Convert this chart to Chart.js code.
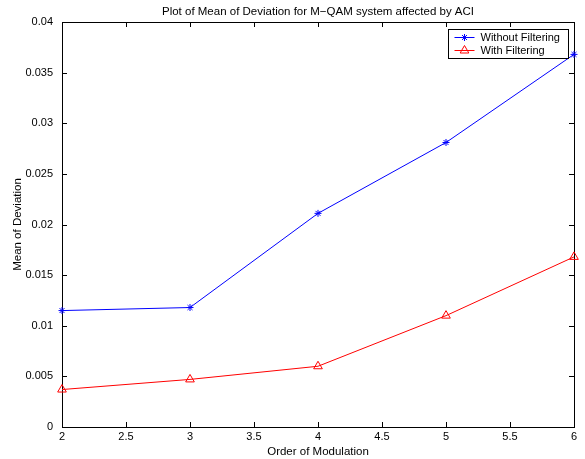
<!DOCTYPE html>
<html>
<head>
<meta charset="utf-8">
<title>Mean of Deviation for M-QAM</title>
<script src="https://cdn.jsdelivr.net/npm/chart.js@4/dist/chart.umd.min.js"></script>
<style>
  html, body { margin: 0; padding: 0; background: #fff; }
  canvas { display: block; }
</style>
</head>
<body>
<canvas id="devChart" width="585" height="459"></canvas>
<script>
// modulation order on the x axis
var orders = [2, 3, 4, 5, 6];
// mean of deviation per order
var withoutFiltering = [0.0115, 0.0118, 0.0211, 0.0281, 0.0368];
var withFiltering = [0.0037, 0.0047, 0.0060, 0.0110, 0.0168];
var seriesNames = ['Without Filtering', 'With Filtering'];

function toPoints(values) {
    return orders.map(function (o, i) { return { x: o, y: values[i] }; });
}

function fmt(v) {
    return String(+Number(v).toFixed(4));
}

Chart.defaults.font.family = "'Liberation Sans', Arial, Helvetica, sans-serif";
Chart.defaults.font.size = 11;
Chart.defaults.color = '#000';

// box round the axes, inward ticks on all four sides, boxed legend
var matlabAxes = {
    id: 'matlabAxes',
    beforeDatasetsDraw: function (chart) {
        var ctx = chart.ctx, a = chart.chartArea;
        var x = chart.scales.x, y = chart.scales.y;
        ctx.save();
        ctx.strokeStyle = '#000';
        ctx.lineWidth = 1;
        ctx.strokeRect(a.left + 0.5, a.top + 0.5, a.right - a.left, a.bottom - a.top);
        ctx.beginPath();
        x.ticks.forEach(function (t) {
            var px = Math.round(x.getPixelForValue(t.value)) + 0.5;
            ctx.moveTo(px, a.bottom); ctx.lineTo(px, a.bottom - 5);
            ctx.moveTo(px, a.top); ctx.lineTo(px, a.top + 5);
        });
        y.ticks.forEach(function (t) {
            var py = Math.round(y.getPixelForValue(t.value)) + 0.5;
            ctx.moveTo(a.left, py); ctx.lineTo(a.left + 5, py);
            ctx.moveTo(a.right, py); ctx.lineTo(a.right - 5, py);
        });
        ctx.stroke();
        ctx.restore();
    },
    afterDraw: function (chart) {
        var ctx = chart.ctx, a = chart.chartArea;
        var sets = chart.data.datasets;
        ctx.save();
        ctx.font = "11px 'Liberation Sans', Arial, sans-serif";
        var textW = 0;
        sets.forEach(function (ds) { textW = Math.max(textW, ctx.measureText(ds.label).width); });
        var boxW = Math.round(32 + textW + 9);
        var boxH = 29;
        var bx = Math.round(a.right - 6 - boxW) + 0.5;
        var by = Math.round(a.top + 7) + 0.5;
        ctx.fillStyle = '#fff';
        ctx.fillRect(bx, by, boxW, boxH);
        ctx.strokeStyle = '#000';
        ctx.lineWidth = 1;
        ctx.strokeRect(bx, by, boxW, boxH);
        sets.forEach(function (ds, i) {
            var ry = Math.round(by + 7 + i * 13);
            ctx.strokeStyle = ds.borderColor;
            ctx.lineWidth = 1;
            ctx.beginPath();
            ctx.moveTo(bx + 6, ry + 0.5);
            ctx.lineTo(bx + 26, ry + 0.5);
            ctx.stroke();
            ctx.fillStyle = 'rgba(0,0,0,0)';
            Chart.helpers.drawPoint(ctx, {
                pointStyle: ds.pointStyle,
                radius: ds.pointRadius,
                borderWidth: 1,
                rotation: 0
            }, bx + 16, ry + 0.5);
            ctx.fillStyle = '#000';
            ctx.textBaseline = 'middle';
            ctx.textAlign = 'left';
            ctx.fillText(ds.label, bx + 32, ry + 1);
        });
        ctx.restore();
    }
};

var ctx = document.getElementById('devChart').getContext('2d');
var devChart = new Chart(ctx, {
    type: 'line',
    data: {
        datasets: [{
            label: seriesNames[0],
            data: toPoints(withoutFiltering),
            borderColor: '#0000ff',
            backgroundColor: 'rgba(0,0,0,0)',
            pointStyle: 'star',
            pointRadius: 3.5,
            pointBorderColor: '#0000ff',
            pointBorderWidth: 1,
            borderWidth: 1,
            tension: 0,
            clip: false
        }, {
            label: seriesNames[1],
            data: toPoints(withFiltering),
            borderColor: '#ff0000',
            backgroundColor: 'rgba(0,0,0,0)',
            pointStyle: 'triangle',
            pointRadius: 5,
            pointBorderColor: '#ff0000',
            pointBackgroundColor: 'rgba(0,0,0,0)',
            pointBorderWidth: 1,
            borderWidth: 1,
            tension: 0,
            clip: false
        }]
    },
    options: {
        responsive: false,
        animation: false,
        devicePixelRatio: 1,
        layout: { padding: { top: 0, left: 0, right: 11, bottom: 0 } },
        scales: {
            x: {
                type: 'linear',
                min: 2,
                max: 6,
                grid: { display: false, drawTicks: false },
                border: { display: false },
                ticks: {
                    stepSize: 0.5,
                    padding: 3,
                    maxRotation: 0,
                    autoSkip: false,
                    callback: fmt
                },
                title: {
                    display: true,
                    text: 'Order of Modulation',
                    font: { size: 11.5 },
                    padding: { top: 7, bottom: 0 }
                },
                afterFit: function (scale) { scale.height = 32; }
            },
            y: {
                type: 'linear',
                min: 0,
                max: 0.04,
                grid: { display: false, drawTicks: false },
                border: { display: false },
                ticks: {
                    stepSize: 0.005,
                    padding: 9,
                    autoSkip: false,
                    callback: fmt
                },
                title: {
                    display: true,
                    text: 'Mean of Deviation',
                    font: { size: 11.5 },
                    padding: { top: 11, bottom: 0 }
                },
                afterFit: function (scale) { scale.width = 62; }
            }
        },
        plugins: {
            legend: { display: false },
            tooltip: { enabled: false },
            title: {
                display: true,
                text: 'Plot of Mean of Deviation for M\u2212QAM system affected by ACI',
                fullSize: false,
                font: { size: 11.5, weight: 'normal' },
                padding: { top: 5.1, bottom: 3.1 }
            }
        }
    },
    plugins: [matlabAxes]
});
</script>
</body>
</html>
